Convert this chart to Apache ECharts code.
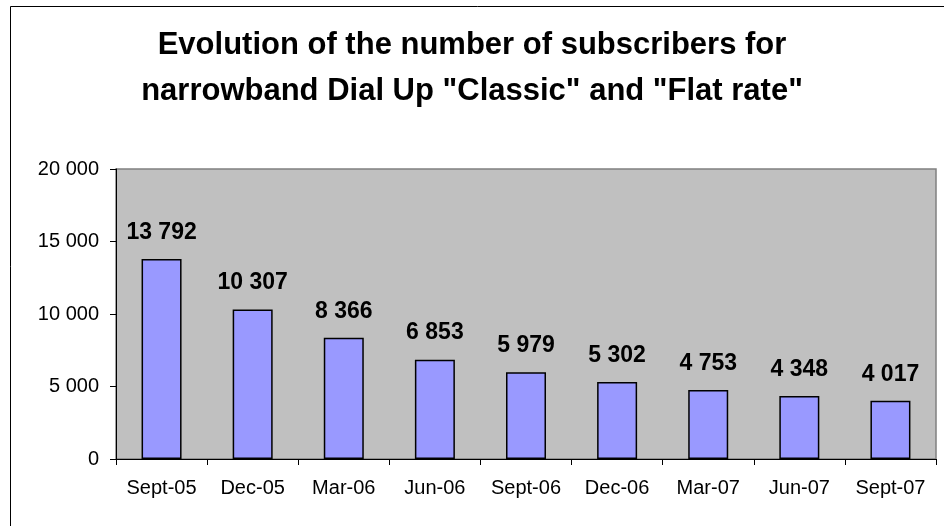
<!DOCTYPE html>
<html>
<head>
<meta charset="utf-8">
<script src="https://cdn.jsdelivr.net/npm/echarts@6/dist/echarts.min.js"></script>
<style>
html,body{margin:0;padding:0;background:#fff;}
#chart{width:944px;height:526px;}
</style>
</head>
<body>
<div id="chart"></div>
<script>
const categories = ["Sept-05","Dec-05","Mar-06","Jun-06","Sept-06","Dec-06","Mar-07","Jun-07","Sept-07"];
const subscribers = [13792, 10307, 8366, 6853, 5979, 5302, 4753, 4348, 4017];
const titleText = 'Evolution of the number of subscribers for\nnarrowband Dial Up "Classic" and "Flat rate"';

function fmt(v){
  return String(Math.round(v)).replace(/\B(?=(\d{3})+(?!\d))/g, ' ');
}
const FONT = '"Liberation Sans", Arial, sans-serif';

const chart = echarts.init(document.getElementById('chart'), null, {renderer:'canvas'});
chart.setOption({
  animation: false,
  backgroundColor: '#ffffff',
  textStyle: {fontFamily: FONT},
  graphic: [{
    type: 'rect',
    shape: {x: 10.5, y: 6.5, width: 1000, height: 1000},
    style: {fill: 'none', stroke: '#000000', lineWidth: 1},
    silent: true,
    z: 0
  }],
  title: {
    text: titleText,
    left: 'center',
    top: 22,
    padding: [0, 0, 0, 8],
    textStyle: {
      fontFamily: FONT,
      fontWeight: 'bold',
      fontSize: 31,
      lineHeight: 46,
      color: '#000000'
    }
  },
  grid: {
    left: 116, right: 8, top: 169, bottom: 67,
    show: true,
    backgroundColor: '#C0C0C0',
    borderColor: '#808080',
    borderWidth: 1.5
  },
  xAxis: {
    type: 'category',
    data: categories,
    boundaryGap: true,
    axisLine: {show: true, lineStyle: {color: '#000000', width: 1}},
    axisTick: {show: true, length: 6, alignWithLabel: false, lineStyle: {color: '#000000'}},
    axisLabel: {color: '#000000', fontSize: 20, fontFamily: FONT, margin: 19, interval: 0},
    splitLine: {show: false}
  },
  yAxis: {
    type: 'value',
    min: 0, max: 20000, interval: 5000,
    axisLine: {show: true, lineStyle: {color: '#000000', width: 1}},
    axisTick: {show: true, length: 6, lineStyle: {color: '#000000'}},
    axisLabel: {color: '#000000', fontSize: 20, fontFamily: FONT, margin: 17, formatter: fmt},
    splitLine: {show: false}
  },
  series: [{
    type: 'bar',
    data: subscribers,
    barWidth: 40,
    itemStyle: {color: '#9999FF', borderColor: '#000000', borderWidth: 1.5},
    label: {
      show: true,
      position: 'top',
      distance: 15,
      fontFamily: FONT,
      fontWeight: 'bold',
      fontSize: 23,
      color: '#000000',
      formatter: p => fmt(p.value)
    }
  }]
});
</script>
</body>
</html>
